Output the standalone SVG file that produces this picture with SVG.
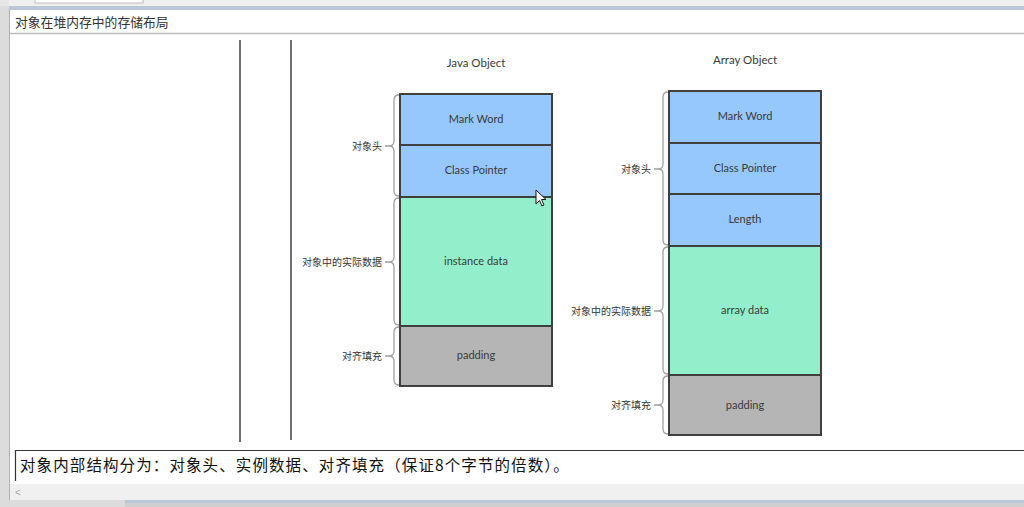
<svg xmlns="http://www.w3.org/2000/svg" width="1024" height="507" viewBox="0 0 1024 507">
<defs>
<style>
.blk{stroke:#3f3f3f;stroke-width:2}
.blue{fill:#96c8fd}
.green{fill:#93efcb}
.gray{fill:#b5b5b5}
.lbl{font-family:"Lato","Liberation Sans",sans-serif;font-size:11px;fill:#3a3a3a;text-anchor:middle}
.ttl{font-family:"Lato","Liberation Sans",sans-serif;font-size:11.5px;fill:#3a3a3a;text-anchor:middle}
.cn{font-family:"Noto Sans CJK SC",sans-serif;font-size:10px;fill:#333;text-anchor:end}
.brace{fill:none;stroke:#a0a0a0;stroke-width:1.3}
</style>
</defs>
<!-- window chrome -->
<rect x="0" y="0" width="1024" height="507" fill="#ffffff"/>
<rect x="0" y="0" width="1024" height="6" fill="#efefef"/>
<rect x="35" y="-1" width="108" height="4" fill="#fff" stroke="#bdbdbd"/>
<rect x="0" y="6" width="1024" height="4" fill="#b9c8d8"/>
<rect x="0" y="0" width="9" height="507" fill="#e6e6e6"/>
<rect x="0" y="6" width="9" height="501" fill="#dcdcdc"/>
<line x1="9.5" y1="10" x2="9.5" y2="500" stroke="#b0b0b0"/>
<line x1="10" y1="33.5" x2="1024" y2="33.5" stroke="#bdbdbd" stroke-width="1.5"/>
<text x="15" y="27" font-family="Noto Sans CJK SC, sans-serif" font-size="12.8" fill="#333">对象在堆内存中的存储布局</text>
<line x1="240" y1="40" x2="240" y2="442" stroke="#222" stroke-width="1.3"/>
<line x1="291" y1="40" x2="291" y2="440" stroke="#222" stroke-width="1.3"/>
<!-- bottom text box -->
<line x1="15" y1="450.5" x2="1024" y2="450.5" stroke="#333" stroke-width="1.2"/>
<line x1="15.5" y1="450" x2="15.5" y2="481" stroke="#333" stroke-width="1.2"/>
<text x="20" y="471" font-family="Noto Sans CJK SC, sans-serif" font-size="15.5" letter-spacing="1.1" fill="#111">对象内部结构分为：对象头、实例数据、对齐填充（保证8个字节的倍数）。</text>
<rect x="10" y="484" width="1014" height="16" fill="#f0f0f0"/>
<text x="15" y="496" font-family="Liberation Sans, sans-serif" font-size="10" fill="#aaa">&lt;</text>
<rect x="0" y="500" width="1024" height="3" fill="#b9c8d8"/>
<rect x="0" y="503" width="1024" height="4" fill="#cfcfcf"/>
<rect x="0" y="500" width="125" height="7" fill="#dcdcdc"/>

<!-- Java Object -->
<g id="java-object">
<text class="ttl" x="476" y="67">Java Object</text>
<g id="j-markword"><rect class="blk blue" x="400" y="94" width="152" height="51"/><text class="lbl" x="476" y="123">Mark Word</text></g>
<g id="j-classpointer"><rect class="blk blue" x="400" y="145" width="152" height="52"/><text class="lbl" x="476" y="174">Class Pointer</text></g>
<g id="j-instancedata"><rect class="blk green" x="400" y="197" width="152" height="129"/><text class="lbl" x="476" y="265">instance data</text></g>
<g id="j-padding"><rect class="blk gray" x="400" y="326" width="152" height="60"/><text class="lbl" x="476" y="359">padding</text></g>
<g id="j-brace-header"><path class="brace" d="M399 95 Q394 95 394 100 L394 141 Q394 146 389 146 L385 146 M389 146 Q394 146 394 151 L394 191 Q394 196 399 196"/><text class="cn" x="382" y="150">对象头</text></g>
<g id="j-brace-data"><path class="brace" d="M399 198 Q394 198 394 203 L394 257 Q394 262 389 262 L385 262 M389 262 Q394 262 394 267 L394 320 Q394 325 399 325"/><text class="cn" x="382" y="266">对象中的实际数据</text></g>
<g id="j-brace-pad"><path class="brace" d="M399 327 Q394 327 394 332 L394 351 Q394 356 389 356 L385 356 M389 356 Q394 356 394 361 L394 380 Q394 385 399 385"/><text class="cn" x="382" y="360">对齐填充</text></g>
</g>

<!-- Array Object -->
<g id="array-object">
<text class="ttl" x="745" y="64">Array Object</text>
<g id="a-markword"><rect class="blk blue" x="669" y="91" width="152" height="52"/><text class="lbl" x="745" y="120">Mark Word</text></g>
<g id="a-classpointer"><rect class="blk blue" x="669" y="143" width="152" height="51"/><text class="lbl" x="745" y="172">Class Pointer</text></g>
<g id="a-length"><rect class="blk blue" x="669" y="194" width="152" height="52"/><text class="lbl" x="745" y="223">Length</text></g>
<g id="a-arraydata"><rect class="blk green" x="669" y="246" width="152" height="129"/><text class="lbl" x="745" y="314">array data</text></g>
<g id="a-padding"><rect class="blk gray" x="669" y="375" width="152" height="60"/><text class="lbl" x="745" y="409">padding</text></g>
<g id="a-brace-header"><path class="brace" d="M668 92 Q663 92 663 97 L663 164 Q663 169 658 169 L654 169 M658 169 Q663 169 663 174 L663 240 Q663 245 668 245"/><text class="cn" x="651" y="173">对象头</text></g>
<g id="a-brace-data"><path class="brace" d="M668 247 Q663 247 663 252 L663 306 Q663 311 658 311 L654 311 M658 311 Q663 311 663 316 L663 369 Q663 374 668 374"/><text class="cn" x="651" y="315">对象中的实际数据</text></g>
<g id="a-brace-pad"><path class="brace" d="M668 376 Q663 376 663 381 L663 400 Q663 405 658 405 L654 405 M658 405 Q663 405 663 410 L663 429 Q663 434 668 434"/><text class="cn" x="651" y="409">对齐填充</text></g>
</g>

<!-- mouse cursor -->
<path d="M536 190 L536 204 L539.5 200.5 L542 206 L544 205 L541.5 199.5 L546 199.5 Z" fill="#fff" stroke="#111" stroke-width="1"/>
</svg>
